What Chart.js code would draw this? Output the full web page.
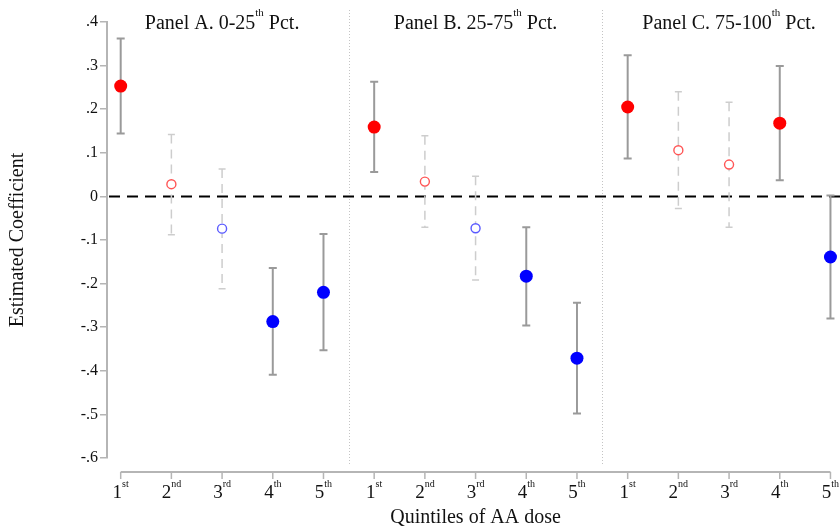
<!DOCTYPE html>
<html>
<head>
<meta charset="utf-8">
<script src="https://cdn.jsdelivr.net/npm/chart.js@4/dist/chart.umd.min.js"></script>
<style>
  body { margin: 0; background: #fff; }
</style>
</head>
<body>
<canvas id="chart" width="840" height="527"></canvas>
<script>
// quintile tick labels (number + superscript)
const quintileNums = ['1', '2', '3', '4', '5'];
const quintileSups = ['st', 'nd', 'rd', 'th', 'th'];

// panel titles: [before superscript, superscript, after]
const panelTitles = [
	['Panel A. 0-25', 'th', ' Pct.'],
	['Panel B. 25-75', 'th', ' Pct.'],
	['Panel C. 75-100', 'th', ' Pct.'],
];

// estimated coefficients and confidence bounds per panel
const coefA = [0.253, 0.028, -0.074, -0.287, -0.220];
const lowA = [0.144, -0.088, -0.212, -0.409, -0.353];
const highA = [0.362, 0.142, 0.063, -0.164, -0.086];
const sigA = [true, false, false, true, true];

const coefB = [0.159, 0.034, -0.073, -0.183, -0.371];
const lowB = [0.056, -0.071, -0.192, -0.296, -0.498];
const highB = [0.263, 0.139, 0.046, -0.071, -0.244];
const sigB = [true, false, false, true, true];

const coefC = [0.205, 0.106, 0.073, 0.168, -0.139];
const lowC = [0.087, -0.028, -0.071, 0.037, -0.280];
const highC = [0.324, 0.240, 0.216, 0.299, 0.002];
const sigC = [true, false, false, true, true];

const yTickValues = [0.4, 0.3, 0.2, 0.1, 0, -0.1, -0.2, -0.3, -0.4, -0.5, -0.6];
const yTickLabels = ['.4', '.3', '.2', '.1', '0', '-.1', '-.2', '-.3', '-.4', '-.5', '-.6'];

const SERIF = "'Liberation Serif', 'DejaVu Serif', serif";

// flatten panels into one list of points
const panels = [
	{ coef: coefA, low: lowA, high: highA, sig: sigA },
	{ coef: coefB, low: lowB, high: highB, sig: sigB },
	{ coef: coefC, low: lowC, high: highC, sig: sigC },
];
let points = [];
panels.forEach((p, pi) => {
	p.coef.forEach((c, i) => {
		points.push({ x: pi * 5 + i + 1, y: c, low: p.low[i], high: p.high[i], sig: p.sig[i] });
	});
});

const fillColor = (pt) => {
	if (!pt.sig) return '#ffffff';
	return pt.y > 0 ? '#ff0000' : '#0000ff';
};
const edgeColor = (pt) => {
	if (pt.sig) return pt.y > 0 ? '#ff0000' : '#0000ff';
	return pt.y > 0 ? '#ff5555' : '#5a5aff';
};

// draw text with a small raised superscript, centered on cx
const drawSup = (ctx, parts, cx, baseY, size, supSize, rise) => {
	const [pre, sup, post] = parts;
	ctx.font = `${size}px ${SERIF}`;
	let w1 = ctx.measureText(pre).width;
	let w3 = post ? ctx.measureText(post).width : 0;
	ctx.font = `${supSize}px ${SERIF}`;
	let w2 = ctx.measureText(sup).width;
	let x = cx - (w1 + w2 + w3) / 2;
	ctx.textAlign = 'left';
	ctx.textBaseline = 'alphabetic';
	ctx.font = `${size}px ${SERIF}`;
	ctx.fillText(pre, x, baseY);
	ctx.font = `${supSize}px ${SERIF}`;
	ctx.fillText(sup, x + w1, baseY - rise);
	if (post) {
		ctx.font = `${size}px ${SERIF}`;
		ctx.fillText(post, x + w1 + w2, baseY);
	}
};

const errorBars = {
	id: 'errorBars',
	beforeDatasetsDraw(chart) {
		const ctx = chart.ctx;
		const xs = chart.scales.x;
		const ys = chart.scales.y;
		const area = chart.chartArea;
		ctx.save();

		// panel dividers
		ctx.strokeStyle = '#c4c4c4';
		ctx.lineWidth = 1;
		ctx.setLineDash([1, 2]);
		[5.5, 10.5].forEach((v) => {
			let px = Math.round(xs.getPixelForValue(v)) + 0.5;
			ctx.beginPath();
			ctx.moveTo(px, area.top - 12);
			ctx.lineTo(px, area.bottom + 8);
			ctx.stroke();
		});

		// zero line
		ctx.strokeStyle = '#000';
		ctx.lineWidth = 2;
		ctx.setLineDash([11, 7]);
		let y0 = ys.getPixelForValue(0);
		ctx.beginPath();
		ctx.moveTo(area.left + 2, y0);
		ctx.lineTo(chart.width, y0);
		ctx.stroke();

		// confidence intervals
		points.forEach((pt) => {
			let px = xs.getPixelForValue(pt.x);
			let yl = ys.getPixelForValue(pt.low);
			let yh = ys.getPixelForValue(pt.high);
			let half;
			if (pt.sig) {
				ctx.strokeStyle = '#9a9a9a';
				ctx.lineWidth = 2;
				ctx.setLineDash([]);
				half = 4;
			} else {
				ctx.strokeStyle = '#cdcdcd';
				ctx.lineWidth = 1.5;
				ctx.setLineDash([9, 6]);
				half = 3.5;
			}
			ctx.beginPath();
			ctx.moveTo(px, yh);
			ctx.lineTo(px, yl);
			ctx.stroke();
			ctx.setLineDash([]);
			ctx.beginPath();
			ctx.moveTo(px - half, yh);
			ctx.lineTo(px + half, yh);
			ctx.moveTo(px - half, yl);
			ctx.lineTo(px + half, yl);
			ctx.stroke();
		});
		ctx.restore();
	},
	afterDraw(chart) {
		const ctx = chart.ctx;
		const xs = chart.scales.x;
		const area = chart.chartArea;
		ctx.save();
		ctx.fillStyle = '#111';

		// x axis line and ticks
		let axisY = area.bottom + 14;
		let first = xs.getPixelForValue(1);
		let last = xs.getPixelForValue(points.length);
		ctx.strokeStyle = '#b5b5b5';
		ctx.lineWidth = 2;
		ctx.beginPath();
		ctx.moveTo(first, axisY);
		ctx.lineTo(last, axisY);
		ctx.stroke();
		ctx.lineWidth = 1.5;
		points.forEach((pt, i) => {
			let px = xs.getPixelForValue(pt.x);
			ctx.beginPath();
			ctx.moveTo(px, axisY);
			ctx.lineTo(px, axisY + 7);
			ctx.stroke();
			let q = i % 5;
			drawSup(ctx, [quintileNums[q], quintileSups[q], ''], px, axisY + 26, 19, 10, 11);
		});

		// x axis title
		ctx.font = `20px ${SERIF}`;
		ctx.textAlign = 'center';
		ctx.textBaseline = 'alphabetic';
		ctx.fillText('Quintiles of AA dose', xs.getPixelForValue(8), axisY + 51);

		// panel titles
		panelTitles.forEach((t, pi) => {
			drawSup(ctx, t, xs.getPixelForValue(pi * 5 + 3), 29, 20, 11, 13);
		});
		ctx.restore();
	},
};

const ctx = document.getElementById('chart');
new Chart(ctx, {
	type: 'scatter',
	data: {
		datasets: [
			{
				data: points,
				clip: false,
				pointBackgroundColor: points.map(fillColor),
				pointBorderColor: points.map(edgeColor),
				pointBorderWidth: points.map((p) => (p.sig ? 0 : 1.4)),
				pointRadius: points.map((p) => (p.sig ? 6.5 : 4.5)),
			},
		],
	},
	options: {
		responsive: false,
		animation: false,
		devicePixelRatio: 1,
		layout: { padding: { top: 22, bottom: 69, left: 0, right: 0 } },
		plugins: { legend: { display: false }, tooltip: { enabled: false } },
		scales: {
			x: {
				type: 'linear',
				min: 0.73,
				max: 15.06,
				display: false,
			},
			y: {
				min: -0.6,
				max: 0.4,
				afterFit: (scale) => {
					scale.width = 107;
				},
				afterBuildTicks: (scale) => {
					scale.ticks = yTickValues.map((v) => ({ value: v }));
				},
				ticks: {
					callback: (v, i) => yTickLabels[i],
					font: { family: SERIF, size: 16 },
					color: '#111',
					padding: 2,
				},
				grid: {
					drawOnChartArea: false,
					drawTicks: true,
					tickLength: 7,
					color: '#b5b5b5',
					lineWidth: 1.5,
				},
				border: { display: true, color: '#b5b5b5', width: 2 },
				title: {
					display: true,
					text: 'Estimated Coefficient',
					font: { family: SERIF, size: 20 },
					color: '#111',
					padding: { top: 6, bottom: 0 },
				},
			},
		},
	},
	plugins: [errorBars],
});
</script>
</body>
</html>
